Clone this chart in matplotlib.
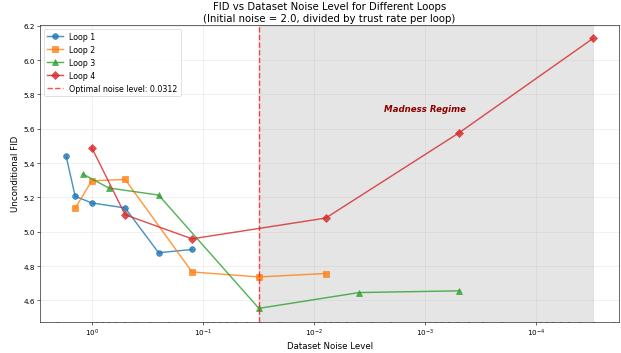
import matplotlib
matplotlib.use("Agg")
import matplotlib.pyplot as plt

# noise level per step and the FID measured there, one list per loop
loop1_noise = [1.7, 1.41, 1.0, 0.5, 0.25, 0.125]
loop1_fid = [5.44, 5.207, 5.168, 5.139, 4.878, 4.897]

loop2_noise = [1.41, 1.0, 0.5, 0.125, 0.03125, 0.0078125]
loop2_fid = [5.137, 5.297, 5.305, 4.766, 4.737, 4.757]

loop3_noise = [1.2, 0.7, 0.25, 0.03125, 0.00390625, 0.00048828]
loop3_fid = [5.336, 5.255, 5.214, 4.554, 4.646, 4.656]

loop4_noise = [1.0, 0.5, 0.125, 0.0078125, 0.00048828, 3.0518e-05]
loop4_fid = [5.49, 5.099, 4.959, 5.08, 5.578, 6.127]

optimal_noise = 0.03125
min_noise = 3.0518e-05

loops = [
    ("Loop 1", loop1_noise, loop1_fid, "o", "tab:blue"),
    ("Loop 2", loop2_noise, loop2_fid, "s", "tab:orange"),
    ("Loop 3", loop3_noise, loop3_fid, "^", "tab:green"),
    ("Loop 4", loop4_noise, loop4_fid, "D", "tab:red"),
]

fig, ax = plt.subplots(figsize=(12, 6.83), dpi=51.83)

for name, xs, ys, mk, col in loops:
    ax.plot(xs, ys, marker=mk, color=col, label=name, linewidth=2,
            markersize=8, alpha=0.8)

ax.axvline(optimal_noise, color="red", linestyle="--", linewidth=2, alpha=0.7,
           label=f"Optimal noise level: {optimal_noise:.4f}")
ax.axvspan(min_noise, optimal_noise, color="gray", alpha=0.2)
ax.text(1e-3, 5.72, "Madness Regime", ha="center", va="center",
        fontsize=12, fontweight="bold", fontstyle="italic", color="darkred")

ax.set_xscale("log")
ax.invert_xaxis()
ax.set_xlabel("Dataset Noise Level", fontsize=12)
ax.set_ylabel("Unconditional FID", fontsize=12)
ax.set_title("FID vs Dataset Noise Level for Different Loops\n"
             "(Initial noise = 2.0, divided by trust rate per loop)", fontsize=14)
ax.grid(True, alpha=0.3)
ax.legend(loc="upper left", fontsize=11)

fig.subplots_adjust(left=0.064, right=0.996, bottom=0.088, top=0.927)
fig.savefig("out.png", dpi=51.83)
